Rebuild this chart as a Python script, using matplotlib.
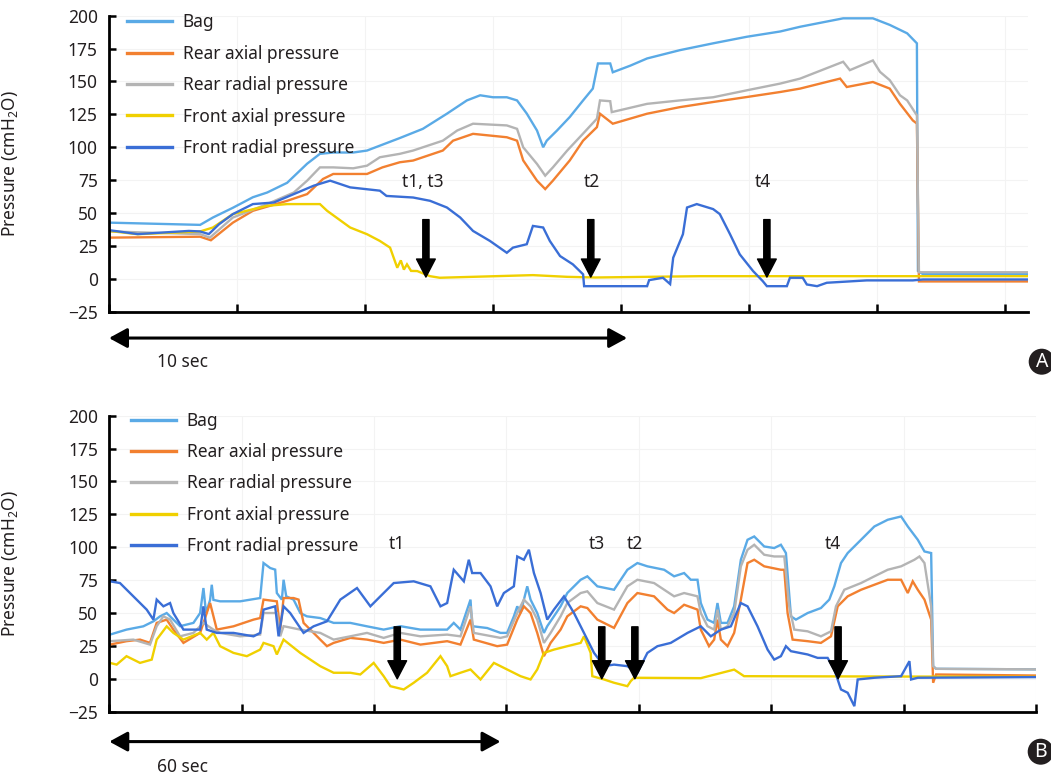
import matplotlib
matplotlib.use("Agg")
import matplotlib.pyplot as plt
from matplotlib.patches import Ellipse

plt.rcParams['font.family'] = ['Noto Sans', 'DejaVu Sans']
TXT = '#231f20'

series_names = ["Bag", "Rear axial pressure", "Rear radial pressure",
                "Front axial pressure", "Front radial pressure"]
colors = ["#5aaae6", "#f28030", "#b4b4b4", "#f0d000", "#3a6ed6"]

# ---------------- Panel A (time in s, pressure in cmH2O) ----------------
a_bag_t = [0, 1.78, 2.03, 2.42, 2.81, 3.09, 3.48, 3.87, 4.12, 4.38, 4.77, 5.04, 5.68, 6.13,
           6.60, 6.99, 7.25, 7.50, 7.77, 7.97, 8.16, 8.36, 8.48, 8.55, 8.75, 9.00, 9.26, 9.45,
           9.55, 9.79, 9.84, 10.18, 10.51, 11.15, 11.80, 12.46, 13.11, 13.50, 14.34, 14.92,
           15.25, 15.59, 15.78, 15.80, 15.90, 17.95]
a_bag_v = [42.7, 41, 46.6, 54, 62, 65.6, 73, 87.5, 95, 96, 96, 97.5, 107, 114,
           125.5, 135.6, 139.5, 138, 138, 135.6, 125.6, 112.7, 100, 105, 112.7, 123, 135.6, 144.6,
           163.7, 163.7, 157, 162, 167.5, 173.8, 179, 184, 188, 191.6, 198, 198,
           193, 186.6, 179, 6, 3.5, 3.5]

a_rax_t = [0, 1.78, 1.99, 2.42, 2.81, 3.48, 3.87, 4.18, 4.38, 5.04, 5.34, 5.68, 5.94, 6.52,
           6.72, 7.11, 7.77, 7.97, 8.09, 8.36, 8.52, 8.67, 9.00, 9.26, 9.53, 9.59, 9.84, 10.51,
           11.15, 11.80, 12.46, 13.11, 13.50, 14.28, 14.41, 14.92, 15.25, 15.45, 15.70, 15.78,
           15.82, 17.95]
a_rax_v = [31.3, 32, 29.3, 42.7, 51.7, 59.3, 64.4, 75.9, 79.7, 79.7, 84.7, 88.6, 89.9, 97.5,
           105, 110.2, 107.6, 105, 90, 74.6, 68.2, 74.6, 90, 105, 115.3, 125.5, 117.9, 125.5,
           130.5, 134.4, 138.2, 142, 144.6, 152.2, 145.8, 149.6, 144.6, 133, 120.4, 118,
           -2, -2]

a_rrad_t = [0, 1.78, 1.97, 2.42, 3.09, 3.61, 3.87, 4.12, 4.38, 4.77, 5.04, 5.29, 5.68, 5.94,
            6.52, 6.80, 7.11, 7.77, 7.97, 8.09, 8.36, 8.52, 8.67, 8.95, 9.26, 9.53, 9.59, 9.79,
            9.82, 10.51, 11.15, 11.80, 12.46, 13.11, 13.50, 14.34, 14.47, 14.92, 15.06, 15.25,
            15.45, 15.59, 15.78, 15.82, 17.95]
a_rrad_v = [36, 34, 31.3, 46.6, 56.8, 65.6, 74.6, 84.7, 84.7, 84, 86, 92.4, 95, 97.5,
            105, 112.7, 117.9, 116.6, 114, 100, 87.3, 78.4, 84.7, 97.5, 110.4, 121.7, 135.6, 135,
            126.7, 133, 135.6, 138, 143.3, 148.4, 152.2, 165, 158.6, 166, 157.3, 151,
            139.5, 135.6, 124.2, 5, 5]

a_fax_t = [0, 0.56, 1.78, 2.03, 2.42, 3.09, 3.48, 4.12, 4.26, 4.71, 5.04, 5.29, 5.49, 5.63,
           5.70, 5.76, 5.82, 5.90, 6.02, 6.27, 6.46, 8.28, 8.95, 9.50, 11.54, 15.78, 17.95]
a_fax_v = [36.4, 33.9, 36, 39, 49.2, 55.5, 56.8, 56.8, 51.7, 39, 33.9, 28.8, 23.7, 8.4,
           14, 7, 11, 6, 5.9, 2, 0.8, 2.8, 1.5, 1, 2, 2, 2]

a_frad_t = [0, 0.56, 1.56, 1.78, 1.95, 2.15, 2.42, 2.81, 3.22, 3.61, 4.00, 4.32, 4.71, 5.29,
            5.42, 5.94, 6.27, 6.60, 6.86, 7.11, 7.44, 7.77, 7.89, 8.16, 8.28, 8.48, 8.61, 8.81,
            9.06, 9.26, 9.28, 10.51, 10.55, 10.82, 10.96, 11.02, 11.21, 11.29, 11.48, 11.80,
            11.93, 12.13, 12.32, 12.58, 12.77, 12.85, 13.24, 13.30, 13.55, 13.63, 13.83, 14.02,
            14.80, 15.70, 15.90, 17.95]
a_frad_v = [37, 34, 36.4, 36, 34, 41.5, 49.2, 56.8, 58, 64.4, 70.8, 74.6, 69.5, 67,
            63, 61.8, 59.3, 54.2, 46.6, 36.4, 28.8, 19.8, 23.7, 26.3, 40.2, 39, 28.8, 17.3,
            11, 3.4, -5.6, -5.6, -1, 0.8, -4, 16, 33.9, 54.2, 56.8, 53,
            49.2, 33.9, 18.6, 5.9, -1.8, -5.6, -5.6, 0.8, 0.8, -4.3, -5.6, -3,
            -1.2, -1.2, -0.5, -0.5]

# ---------------- Panel B ----------------
b_bag_t = [0.1, 2.6, 5.14, 6.66, 7.67, 8.67, 9.68, 10.69, 12.71, 13.72, 14.22, 14.62, 15.23,
           15.48, 15.73, 16.74, 19.77, 22.79, 23.3, 24.31, 25.06, 25.31, 26.07, 26.33, 26.73,
           27.84, 28.85, 29.85, 31.87, 33.89, 36.41, 38.93, 41.45, 43.98, 47.0, 51.04, 52.04,
           53.05, 54.57, 54.82, 57.09, 59.1, 60.1, 61.12, 61.63, 62.13, 63.14, 63.64, 64.65,
           65.66, 66.16, 67.17, 68.18, 69.19, 71.21, 72.22, 73.73, 76.25, 78.27, 79.78, 81.29,
           83.82, 85.33, 86.84, 87.85, 88.86, 89.36, 90.37, 91.38, 91.88, 92.39, 93.4, 94.4,
           95.41, 96.42, 97.43, 98.94, 100.45, 101.46, 102.22, 102.98, 103.73, 105.5, 107.51,
           108.77, 109.53, 110.54, 111.55, 113.57, 115.58, 117.6, 119.62, 120.63, 122.14,
           123.15, 124.16, 124.46, 124.9, 140]
b_bag_v = [33.6, 37.4, 39.9, 43.7, 47.5, 50, 45, 40, 42.5, 50, 69, 50, 60,
           71.5, 60, 58.9, 58.9, 61.4, 88, 84.2, 83, 65.2, 60.2, 75.3, 62.7,
           60.2, 50, 47.5, 46.2, 42.5, 42.5, 39.9, 37.4, 40, 37.4, 37.4, 42.5,
           37.4, 60.2, 40, 38.6, 34.9, 34.9, 47.5, 55.1, 50, 70.3, 60.2, 50,
           34.9, 40, 47.5, 55.1, 65.2, 75.3, 77.9, 70.3, 67.7, 82.9, 88, 85.5,
           82.9, 77.9, 80.4, 75.3, 75.3, 57.6, 45, 42.5, 57.6, 42.5, 42.5, 55.1,
           90.5, 105.7, 108.2, 100.6, 99.4, 101.9, 95.6, 47.5, 45, 50, 53.8,
           60.2, 70.3, 88, 95.6, 105.7, 115.8, 120.9, 123.4, 115.8, 105.7,
           96.8, 95.6, 9.6, 7.6, 7.2]

b_rax_t = [0.1, 2.6, 4.64, 6.15, 7.16, 8.67, 9.68, 11.2, 13.72, 15.23, 16.24, 18.76, 21.79,
           22.79, 23.3, 25.31, 25.82, 26.33, 27.84, 28.59, 29.35, 31.87, 32.88, 33.89, 36.41,
           38.93, 41.45, 43.98, 47.0, 51.04, 53.05, 54.57, 55.07, 58.6, 60.1, 61.63, 62.63,
           63.64, 64.65, 65.66, 66.67, 68.18, 69.19, 71.21, 72.22, 73.73, 76.25, 78.27, 79.78,
           82.3, 84.33, 85.33, 86.84, 88.86, 89.36, 90.6, 91.38, 91.88, 92.39, 93.4, 94.4,
           95.41, 96.42, 97.43, 98.94, 101.46, 101.97, 102.47, 103.23, 105.5, 107.51, 109.03,
           110.04, 111.55, 113.57, 115.58, 117.6, 119.62, 120.63, 121.38, 122.14, 123.15,
           124.16, 124.46, 124.9, 140]
b_rax_v = [26, 28.6, 29.8, 27.3, 42.5, 45, 37.4, 27.3, 34.9, 57.6, 37.4, 39.9, 45,
           46.2, 60.2, 58.9, 37.4, 61.4, 61.4, 60.2, 42.5, 29.8, 24.8, 27.3, 31.1,
           29.8, 27.3, 29.8, 26, 28.6, 26, 45, 29.8, 24.8, 26, 45, 55.1,
           50, 34.9, 17.2, 27.3, 37.4, 47.5, 55.1, 53.8, 45, 38.7, 57.6, 65.2,
           62.7, 52.6, 50, 56.3, 52.6, 37.4, 24.8, 29.8, 45, 29.8, 24.8, 34.9,
           60.2, 88, 90.5, 85.5, 82.9, 82.9, 50, 29.8, 28.6, 27.3, 32.3,
           55.1, 62.7, 67.7, 71.5, 75.3, 75.3, 65.2, 74.1, 67.7, 60.2,
           45, -3, 3.3, 2.5]

b_rrad_t = [0.1, 3.63, 6.15, 7.16, 8.17, 9.18, 10.69, 12.71, 14.22, 15.73, 16.74, 19.77,
            22.79, 23.3, 25.31, 25.82, 26.33, 28.85, 31.87, 33.89, 36.41, 38.93, 41.45, 43.98,
            47.0, 51.04, 53.05, 54.57, 55.07, 59.1, 60.1, 61.63, 62.63, 63.64, 64.65, 65.66,
            66.67, 68.18, 69.19, 71.21, 72.22, 73.73, 76.25, 78.27, 79.78, 82.3, 85.33, 86.84,
            88.86, 89.36, 90.37, 91.38, 91.88, 92.39, 93.4, 94.4, 95.41, 96.42, 97.43, 98.94,
            100.45, 101.97, 102.72, 103.48, 105.5, 107.51, 109.03, 109.78, 111.04, 113.57,
            115.58, 117.6, 119.62, 121.63, 122.39, 123.15, 124.16, 124.46, 124.9, 140]
b_rrad_v = [28.6, 29.8, 26, 40, 47.5, 45, 32.3, 34.9, 42.5, 37.4, 34.9, 32.3,
            33.6, 50, 50, 32.3, 40, 37.4, 34.9, 29.8, 32.3, 34.9, 31.1, 34.9,
            32.3, 33.6, 32.3, 55.1, 34.9, 31.1, 32.3, 50, 60.2, 55.1, 45, 27.3,
            34.9, 47.5, 57.6, 65.2, 66.5, 57.6, 52.6, 70.3, 75.3, 72.8, 62.7, 65.2,
            62.7, 50, 40, 37.4, 52.6, 37.4, 40, 50, 85.5, 98.1, 101.9, 94.3,
            93, 93, 55.1, 37.4, 36.1, 32.3, 36.1, 55.1, 67.7, 72.8,
            77.9, 82.9, 85.5, 90.5, 93, 88, 55.1, 9.6, 7.6, 7.2]

b_fax_t = [0.1, 1.11, 2.6, 4.64, 6.41, 7.16, 8.67, 9.68, 11.2, 13.72, 14.72, 15.73, 16.74,
           18.76, 20.78, 22.79, 23.3, 24.81, 25.31, 26.33, 28.85, 31.87, 33.89, 36.41, 37.92,
           39.94, 41.45, 42.46, 44.48, 45.99, 48.01, 50.03, 51.04, 51.54, 53.05, 54.57, 56.08,
           58.1, 60.1, 62.13, 63.64, 64.65, 65.66, 67.17, 69.19, 71.21, 71.71, 72.72, 72.97,
           74.74, 76.25, 78.27, 78.77, 79.28, 89.36, 94.4, 95.9, 140]
b_fax_v = [12.1, 10.8, 17.2, 12.1, 14.6, 29.8, 39.9, 34.9, 29.8, 34.9, 29.8, 34.9, 24.8,
           19.7, 17.2, 22.2, 27.3, 24.8, 18.5, 29.8, 19.7, 9.6, 4.6, 4.6, 3.3,
           12.1, 2, -5.6, -8.1, -3, 4.6, 17.2, 9.6, 2, 4.6, 7.1, -0.5,
           12.1, 7.1, 2, -0.5, 7.1, 19.7, 22.2, 24.8, 27.3, 32.3, 19.7, 2,
           -0.5, -3, -5.6, -1.8, 0.8, 0.5, 7, 2, 1.5]

b_frad_t = [0.1, 1.61, 3.63, 5.65, 6.66, 7.16, 8.17, 9.18, 9.68, 11.2, 13.72, 14.22, 14.72,
            16.24, 18.76, 21.79, 22.79, 23.3, 25.06, 25.57, 26.33, 27.33, 29.35, 30.86, 32.88,
            34.9, 37.42, 39.44, 40.95, 42.97, 45.99, 48.51, 50.03, 51.04, 52.04, 53.56, 54.31,
            54.82, 56.08, 57.59, 58.6, 59.61, 61.12, 61.63, 62.63, 63.39, 64.15, 65.16, 66.16,
            67.17, 68.69, 70.2, 71.71, 73.23, 74.74, 76.25, 78.27, 79.78, 81.29, 82.81, 84.82,
            87.35, 89.36, 90.87, 92.39, 93.9, 95.41, 96.42, 97.93, 99.45, 100.45, 101.46,
            102.22, 102.98, 105.5, 107.01, 108.52, 109.53, 110.54, 111.55, 112.56, 113.06,
            115.58, 119.62, 120.88, 121.13, 122.14, 140]
b_frad_v = [74.1, 72.8, 62.7, 52.6, 45, 60.2, 55.1, 57.6, 50, 37.4, 37.4, 55.1, 37.4,
            34.9, 34.9, 32.3, 34.9, 52.6, 55.1, 32.3, 55.1, 50, 34.9, 39.9, 43.7,
            60.2, 69, 55.1, 62.7, 72.8, 74.1, 70.3, 55.1, 57.6, 82.9, 74.1, 90.5,
            80.4, 80.4, 70.3, 55.1, 65.2, 70.3, 93, 90.5, 98.1, 80.4, 65.2, 45,
            52.6, 62.7, 50, 34.9, 19.7, 9.6, 10.8, 9.6, 4.6, 19.7, 24.8, 27.3,
            34.9, 39.9, 32.3, 37.4, 39.9, 57.6, 55.1, 39.9, 22.2, 14.6, 17.2,
            24.8, 21, 18.5, 15.9, 15.9, 7.1, -8.1, -10.6, -20.8, -0.5,
            0.8, 2, 13.4, -0.5, 0.8, 1.3]

# annotation markers (time, label)
a_marks_t = [6.19, 9.41, 12.85]
a_marks_lbl = ["t1, t3", "t2", "t4"]
b_marks_t = [43.5, 74.4, 79.4, 110.1]
b_marks_lbl = ["t1", "t3", "t2", "t4"]

fig = plt.figure(figsize=(10.51, 7.75), dpi=100)
W, H = 1051, 775
axA = fig.add_axes([109 / W, 1 - 311.7 / H, (1028 - 109) / W, 296 / H])
axB = fig.add_axes([109.3 / W, 1 - 711.7 / H, (1036 - 109.3) / W, 296 / H])

panelA = [(a_bag_t, a_bag_v), (a_rax_t, a_rax_v), (a_rrad_t, a_rrad_v),
          (a_fax_t, a_fax_v), (a_frad_t, a_frad_v)]
panelB = [(b_bag_t, b_bag_v), (b_rax_t, b_rax_v), (b_rrad_t, b_rrad_v),
          (b_fax_t, b_fax_v), (b_frad_t, b_frad_v)]


def style_axes(ax, xmax, xstep):
    ax.set_xlim(0, xmax)
    ax.set_ylim(-25, 200)
    ax.set_yticks(range(-25, 201, 25))
    ax.set_xticks([xstep * i for i in range(int(xmax // xstep) + 1)])
    ax.set_xticklabels([])
    for s in ['top', 'right']:
        ax.spines[s].set_visible(False)
    for s in ['left', 'bottom']:
        ax.spines[s].set_linewidth(2.0)
        ax.spines[s].set_color('black')
    ax.tick_params(axis='y', direction='in', length=5, width=1.8, pad=8,
                   labelsize=12.5, labelcolor=TXT)
    ax.tick_params(axis='x', direction='in', length=6, width=1.8)
    ax.grid(True, color='#f3f3f3', lw=0.8)
    ax.set_axisbelow(True)
    ax.set_ylabel('Pressure (cmH$\\mathregular{_2}$O)', fontsize=12.5, color=TXT)


for ax, data, xmax, xstep, lx, anchor in [(axA, panelA, 17.95, 2.5, -0.0968, (0.012, 1.031)),
                                         (axB, panelB, 140, 20, -0.0964, (0.016, 1.037))]:
    style_axes(ax, xmax, xstep)
    ax.yaxis.set_label_coords(lx, 0.5)
    for (t, v), c, n in zip(data, colors, series_names):
        ax.plot(t, v, color=c, lw=1.7, label=n, solid_joinstyle='miter')
    leg = ax.legend(loc='upper left', bbox_to_anchor=anchor, frameon=False,
                    fontsize=12.5, handlelength=2.6, handletextpad=0.6,
                    labelspacing=0.77, borderaxespad=0)
    for txt in leg.get_texts():
        txt.set_color(TXT)
    for ln in leg.get_lines():
        ln.set_linewidth(2.4)

arrow_kw = dict(arrowstyle='simple,head_length=1.3,head_width=1.35,tail_width=0.45',
                mutation_scale=10, color='black', shrinkA=0, shrinkB=0)
for t in a_marks_t:
    axA.annotate('', xy=(t, 1.3), xytext=(t, 45), arrowprops=arrow_kw)
a_lbl_t = [6.12, 9.43, 12.77]
for t, lbl in zip(a_lbl_t, a_marks_lbl):
    axA.text(t, 73.3, lbl, ha='center', va='center', fontsize=12.5, color=TXT)

b_lbl_t = [43.5, 73.6, 79.4, 109.3]
for t in b_marks_t:
    axB.annotate('', xy=(t, 0), xytext=(t, 39.5), arrowprops=arrow_kw)
for t, lbl in zip(b_lbl_t, b_marks_lbl):
    axB.text(t, 102.7, lbl, ha='center', va='center', fontsize=12.5, color=TXT)

# scale bars
dbl = dict(arrowstyle='<|-|>,head_length=0.55,head_width=0.3', mutation_scale=20,
           color='black', lw=2.2, shrinkA=0, shrinkB=0)
axA.annotate('', xy=(10.12, -0.089), xytext=(0.0, -0.089), xycoords=('data', 'axes fraction'),
             textcoords=('data', 'axes fraction'), arrowprops=dbl, annotation_clip=False)
axA.text(1.43, -0.17, '10 sec', transform=axA.get_xaxis_transform(), ha='center', va='center',
         fontsize=12.5, color=TXT)
axB.annotate('', xy=(59.1, -0.101), xytext=(0.0, -0.101), xycoords=('data', 'axes fraction'),
             textcoords=('data', 'axes fraction'), arrowprops=dbl, annotation_clip=False)
axB.text(11.0, -0.187, '60 sec', transform=axB.get_xaxis_transform(), ha='center', va='center',
         fontsize=12.5, color=TXT)

# panel badges
for cx, cy, lab in [(1041.7, 361.7, 'A'), (1040.7, 751.7, 'B')]:
    fig.add_artist(Ellipse((cx / W, 1 - cy / H), 26 / W, 26 / H, transform=fig.transFigure,
                           facecolor='#231f20', edgecolor='none'))
    fig.text(cx / W, 1 - cy / H, lab, color='white', fontsize=14, fontweight='bold',
             ha='center', va='center')

fig.savefig('out.png', dpi=100)
